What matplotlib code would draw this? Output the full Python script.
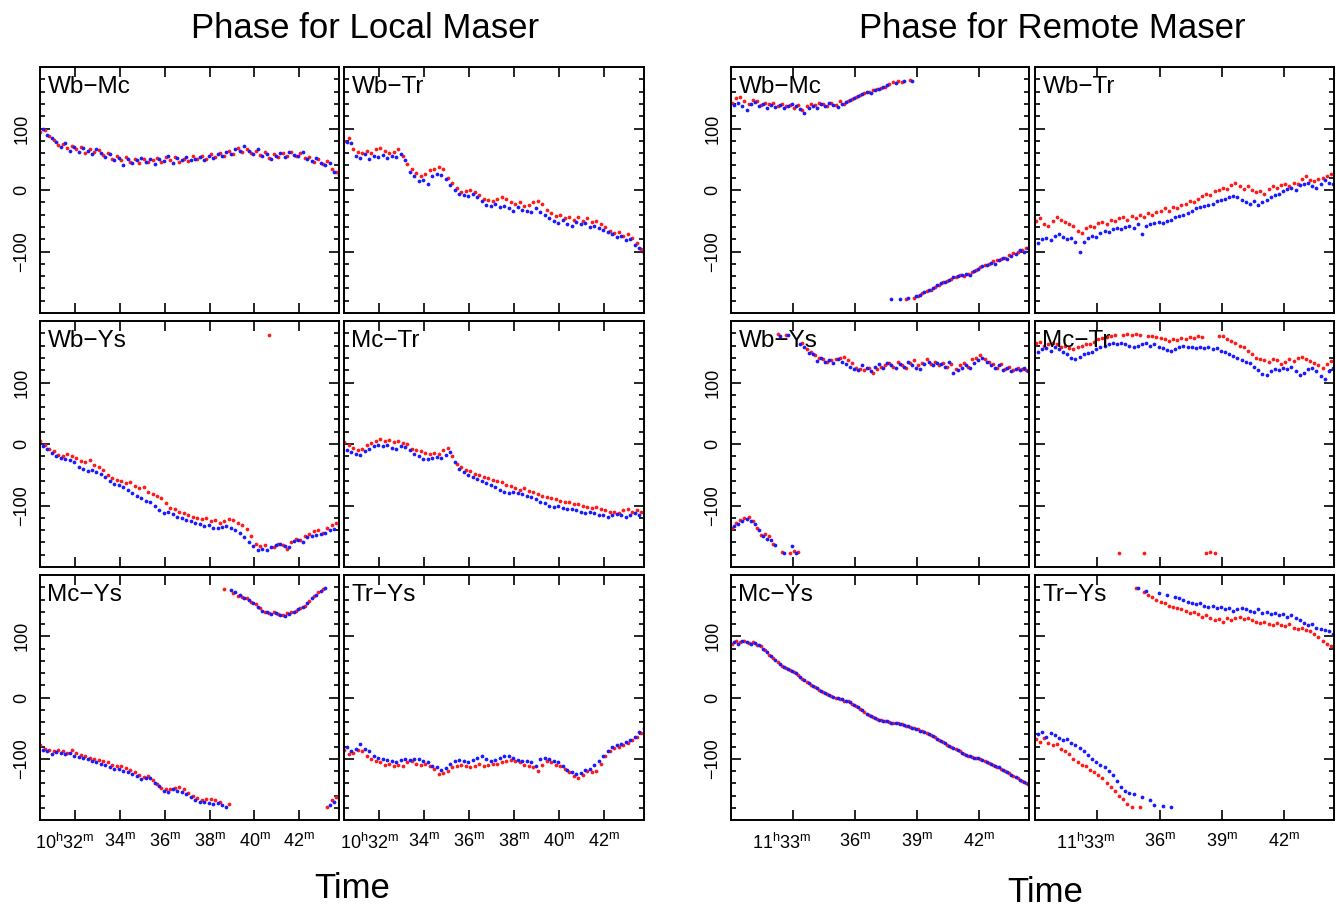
import numpy as np
import matplotlib.pyplot as plt
from matplotlib.transforms import ScaledTranslation

plt.rcParams['font.family'] = ['Liberation Sans', 'DejaVu Sans']
plt.rcParams['mathtext.fontset'] = 'custom'
plt.rcParams['mathtext.rm'] = 'Liberation Sans'

# sample times, minutes past the hour (10h for local, 11h for remote)
t_loc_r = 30.45 + 0.2 * np.arange(67)
t_loc_b = 30.55 + 0.2 * np.arange(67)
t_rem_r = 30.05 + 0.2 * np.arange(72)
t_rem_b = 30.15 + 0.2 * np.arange(72)

# phases in degrees (unwrapped where the track crosses +-180)
loc_wbmc_r = [95, 98, 88, 82, 73, 74, 68, 72, 66, 70,
              60, 66, 62, 65, 57, 60, 50, 55, 48, 53,
              46, 50, 44, 51, 45, 49, 52, 46, 54, 48,
              53, 45, 51, 47, 55, 50, 56, 51, 58, 54,
              60, 55, 64, 58, 68, 62, 67, 60, 64, 57,
              61, 52, 58, 53, 60, 55, 62, 56, 60, 52,
              54, 46, 51, 42, 47, 34, 30]
loc_wbmc_b = [100, 90, 84, 78, 70, 76, 64, 70, 62, 68,
              63, 58, 66, 60, 54, 58, 48, 52, 40, 50,
              44, 48, 52, 45, 50, 43, 50, 47, 55, 44,
              52, 48, 54, 49, 50, 53, 48, 56, 52, 58,
              56, 62, 59, 66, 64, 72, 63, 58, 66, 55,
              58, 50, 56, 60, 53, 62, 57, 55, 61, 50,
              47, 52, 44, 40, 44, 30, 25]

loc_wbtr_r = [80, 84, 66, 62, 60, 64, 60, 66, 68, 64,
              60, 62, 67, 55, 42, 34, 28, 22, 26, 32,
              34, 38, 34, 20, 12, 4, -4, -2, 0, -4,
              -8, -14, -16, -18, -14, -12, -15, -20, -22, -20,
              -26, -24, -20, -18, -22, -32, -38, -42, -40, -46,
              -44, -48, -44, -50, -46, -52, -50, -55, -60, -66,
              -70, -68, -74, -72, -78, -86, -96]
loc_wbtr_b = [78, 76, 56, 52, 58, 50, 56, 54, 57, 52,
              56, 54, 58, 48, 30, 22, 14, 16, 10, 22,
              26, 24, 18, 8, 0, -6, -8, -10, -6, -12,
              -18, -24, -26, -22, -28, -26, -30, -34, -28, -32,
              -34, -36, -30, -35, -40, -45, -50, -53, -48, -55,
              -58, -52, -56, -54, -60, -58, -62, -65, -68, -72,
              -76, -75, -82, -80, -90, -95, -102]

loc_wbys_r = [5, -2, -8, -12, -18, -20, -16, -20, -22, -28,
              -30, -26, -34, -38, -42, -50, -56, -58, -60, -64,
              -62, -68, -72, -70, -78, -82, -84, -88, -96, -104,
              -106, -110, -112, -115, -118, -120, -122, -120, -125, -124,
              -128, -126, -122, -124, -128, -132, -138, -150, -162, -166,
              -164, -183, -168, -162, -165, -170, -160, -154, -156, -150,
              -146, -142, -140, -144, -136, -132, -128]
loc_wbys_b = [-4, -8, -15, -19, -22, -24, -26, -30, -38, -40,
              -44, -43, -46, -48, -54, -60, -65, -67, -70, -74,
              -80, -84, -88, -92, -94, -100, -108, -112, -110, -114,
              -118, -120, -124, -126, -128, -130, -134, -132, -136, -137,
              -135, -134, -136, -140, -145, -152, -160, -166, -172, -170,
              -172, -168, -164, -162, -166, -168, -158, -156, -160, -152,
              -150, -148, -146, -145, -140, -138, -134]

loc_mctr_r = [3, -2, -6, -10, -8, -2, 2, 5, 8, 5,
              7, 3, 5, 2, 0, -8, -10, -12, -14, -16,
              -14, -16, -10, -6, -20, -32, -38, -42, -44, -48,
              -50, -54, -56, -58, -60, -62, -66, -68, -72, -74,
              -72, -76, -78, -82, -84, -86, -88, -90, -92, -94,
              -95, -97, -98, -100, -102, -104, -103, -106, -108, -110,
              -110, -112, -108, -106, -110, -108, -110]
loc_mctr_b = [-10, -13, -16, -18, -12, -8, -4, -2, -3, -1,
              -6, -8, -4, -5, -10, -16, -20, -24, -25, -22,
              -21, -22, -18, -13, -30, -40, -46, -50, -54, -57,
              -60, -64, -66, -70, -74, -78, -80, -78, -80, -82,
              -84, -86, -90, -94, -96, -100, -102, -100, -104, -105,
              -106, -108, -110, -112, -110, -113, -115, -116, -118, -116,
              -114, -116, -118, -115, -113, -116, -112]

loc_mcys_r = [-78, -84, -86, -88, -86, -88, -90, -86, -90, -94,
              -96, -98, -100, -102, -104, -106, -110, -112, -112, -115,
              -118, -122, -126, -130, -128, -134, -142, -148, -150, -150,
              -148, -146, -150, -156, -160, -164, -168, -166, -166, -168,
              -170, -183, -174, -190, -194, -196, -198, -204, -208, -214,
              -220, -222, -220, -224, -226, -222, -220, -218, -214, -210,
              -202, -194, -188, -183, -178, -168, -162]
loc_mcys_b = [-85, -88, -92, -89, -90, -92, -90, -95, -97, -98,
              -101, -103, -106, -109, -110, -114, -116, -117, -120, -122,
              -125, -128, -133, -132, -131, -140, -145, -152, -155, -150,
              -152, -154, -158, -162, -168, -171, -170, -173, -174, -172,
              -175, -179, -185, -188, -193, -197, -200, -206, -212, -218,
              -221, -224, -222, -225, -227, -223, -221, -216, -212, -206,
              -198, -192, -186, -182, -176, -170, -164]

loc_trys_r = [-85, -93, -90, -86, -88, -95, -100, -104, -106, -110,
              -108, -112, -110, -112, -106, -104, -108, -110, -109, -112,
              -116, -125, -124, -120, -114, -112, -110, -112, -114, -112,
              -108, -112, -110, -108, -109, -106, -104, -102, -104, -106,
              -110, -112, -114, -120, -110, -104, -106, -110, -112, -116,
              -122, -128, -131, -126, -120, -122, -120, -108, -96, -88,
              -82, -80, -78, -74, -70, -64, -58]
loc_trys_b = [-80, -88, -84, -76, -84, -88, -96, -98, -100, -102,
              -104, -106, -102, -100, -102, -100, -101, -104, -106, -112,
              -114, -118, -115, -108, -104, -102, -104, -106, -102, -98,
              -96, -100, -104, -102, -98, -96, -95, -98, -102, -104,
              -104, -106, -112, -100, -98, -100, -104, -106, -112, -118,
              -122, -125, -124, -118, -117, -110, -104, -96, -88, -80,
              -77, -76, -72, -70, -64, -56, -50]

rem_wbmc_r = [142, 150, 152, 145, 140, 146, 144, 138, 142, 140,
              141, 137, 140, 136, 138, 134, 138, 130, 136, 140,
              138, 142, 140, 136, 142, 138, 144, 140, 145, 148,
              152, 155, 158, 160, 162, 164, 166, 168, 172, 175,
              178, 176, 182, 179, 185, 188, 192, 196, 198, 202,
              206, 210, 212, 216, 218, 222, 220, 224, 226, 230,
              234, 238, 240, 244, 246, 248, 250, 254, 258, 260,
              262, 266]
rem_wbmc_b = [138, 142, 136, 130, 140, 143, 137, 140, 134, 138,
              135, 138, 133, 137, 140, 136, 132, 126, 134, 136,
              134, 140, 137, 141, 138, 135, 140, 143, 146, 150,
              153, 156, 160, 158, 163, 165, 168, 170, 183, 174,
              182, 177, 184, 178, 187, 190, 194, 198, 200, 205,
              208, 211, 214, 218, 220, 221, 224, 222, 228, 232,
              236, 238, 242, 240, 246, 250, 248, 252, 256, 262,
              260, 265]

rem_wbtr_r = [-50, -46, -56, -58, -50, -44, -48, -52, -56, -58,
              -66, -70, -62, -58, -60, -54, -52, -56, -48, -50,
              -46, -44, -48, -42, -45, -40, -44, -38, -40, -36,
              -34, -30, -34, -28, -30, -25, -22, -18, -20, -14,
              -10, -6, -8, -2, 0, 4, 2, 8, 12, 6,
              2, 6, 0, -4, -2, -6, 2, 6, 4, 8,
              10, 6, 12, 10, 18, 22, 16, 14, 18, 20,
              22, 26]
rem_wbtr_b = [-86, -80, -78, -82, -74, -72, -76, -80, -78, -84,
              -100, -84, -78, -74, -76, -70, -66, -68, -64, -62,
              -64, -60, -58, -62, -56, -72, -58, -56, -54, -52,
              -54, -50, -48, -44, -42, -40, -38, -34, -30, -28,
              -26, -24, -22, -18, -16, -14, -12, -10, -12, -16,
              -20, -22, -18, -24, -20, -16, -12, -8, -6, -2,
              2, 4, 0, 8, 10, 12, 6, 3, 10, 16,
              12, 10]

rem_wbys_r = [-136, -128, -124, -120, -118, -126, -136, -148, -146, -150,
              -162, -181, -176, -182, -178, -174, -175, -196, -205, -210,
              -216, -220, -222, -226, -224, -222, -220, -218, -224, -228,
              -236, -238, -240, -236, -244, -238, -234, -232, -228, -234,
              -226, -232, -236, -228, -224, -232, -228, -222, -230, -226,
              -232, -228, -234, -230, -238, -232, -228, -234, -222, -220,
              -215, -222, -226, -230, -236, -230, -238, -234, -240, -236,
              -238, -240]
rem_wbys_b = [-134, -130, -126, -122, -126, -130, -140, -150, -154, -156,
              -164, -185, -178, -183, -166, -177, -197, -203, -212, -214,
              -225, -220, -226, -224, -228, -222, -226, -230, -234, -238,
              -240, -231, -236, -242, -234, -230, -236, -228, -232, -236,
              -230, -234, -226, -232, -236, -238, -230, -226, -232, -228,
              -230, -234, -226, -244, -240, -236, -232, -236, -228, -224,
              -220, -226, -232, -236, -232, -240, -236, -242, -238, -240,
              -236, -242]

rem_mctr_r = [164, 166, 160, 163, 165, 162, 158, 160, 156, 154,
              158, 160, 163, 162, 166, 170, 172, 174, 176, 177,
              183, 178, 179, 177, 179, 178, 183, 176, 175, 174,
              172, 170, 168, 171, 169, 173, 171, 174, 172, 175,
              174, 183, 184, 182, 176, 175, 170, 168, 165, 160,
              158, 152, 146, 140, 138, 136, 134, 138, 136, 130,
              134, 138, 135, 140, 142, 138, 135, 132, 128, 124,
              130, 135]
rem_mctr_b = [150, 154, 156, 152, 158, 155, 150, 146, 140, 138,
              142, 146, 148, 150, 154, 158, 160, 162, 164, 163,
              165, 162, 160, 158, 160, 162, 164, 160, 162, 158,
              156, 153, 152, 155, 158, 160, 157, 158, 156, 157,
              156, 158, 155, 156, 152, 150, 146, 143, 140, 136,
              134, 132, 126, 120, 114, 112, 118, 122, 120, 124,
              122, 126, 118, 112, 116, 122, 124, 118, 110, 105,
              118, 124]

rem_mcys_r = [88, 92, 90, 93, 89, 90, 86, 84, 78, 70,
              64, 58, 52, 48, 45, 42, 36, 30, 26, 20,
              17, 12, 9, 5, 2, 0, -2, -5, -6, -10,
              -14, -19, -24, -29, -32, -35, -37, -38, -40, -41,
              -42, -44, -46, -48, -50, -52, -55, -58, -61, -65,
              -69, -73, -77, -80, -84, -88, -92, -95, -97, -98,
              -100, -103, -107, -110, -113, -116, -120, -124, -128, -132,
              -136, -140]
rem_mcys_b = [90, 88, 92, 90, 87, 89, 85, 80, 74, 68,
              62, 55, 50, 46, 44, 40, 33, 28, 23, 18,
              15, 11, 7, 4, 1, -1, -3, -6, -8, -12,
              -16, -21, -27, -30, -34, -36, -38, -39, -41, -42,
              -43, -45, -47, -49, -51, -54, -57, -60, -63, -67,
              -71, -75, -79, -82, -86, -90, -94, -96, -98, -99,
              -102, -105, -108, -112, -114, -118, -122, -126, -130, -134,
              -138, -142]

rem_trys_r = [-68, -72, -66, -74, -78, -76, -84, -88, -92, -100,
              -106, -110, -112, -118, -122, -126, -132, -140, -146, -152,
              -160, -166, -174, -178, -182, -178, -188, -192, -196, -200,
              -204, -206, -210, -212, -214, -216, -218, -222, -220, -224,
              -228, -226, -230, -234, -232, -236, -230, -234, -231, -228,
              -232, -230, -234, -236, -238, -236, -240, -242, -238, -242,
              -244, -240, -246, -248, -246, -250, -252, -256, -262, -268,
              -272, -276]
rem_trys_b = [-60, -56, -64, -58, -62, -66, -70, -68, -74, -78,
              -82, -88, -94, -100, -106, -110, -114, -120, -126, -136,
              -146, -152, -156, -158, -182, -162, -186, -168, -176, -190,
              -177, -192, -178, -196, -198, -200, -204, -206, -208, -206,
              -210, -212, -210, -214, -212, -216, -214, -218, -216, -214,
              -216, -218, -220, -216, -222, -220, -224, -222, -226, -224,
              -228, -226, -230, -234, -238, -242, -240, -246, -248, -250,
              -252, -256]

baselines = ['Wb−Mc', 'Wb−Tr', 'Wb−Ys', 'Mc−Tr', 'Mc−Ys', 'Tr−Ys']
local = [(loc_wbmc_r, loc_wbmc_b), (loc_wbtr_r, loc_wbtr_b),
         (loc_wbys_r, loc_wbys_b), (loc_mctr_r, loc_mctr_b),
         (loc_mcys_r, loc_mcys_b), (loc_trys_r, loc_trys_b)]
remote = [(rem_wbmc_r, rem_wbmc_b), (rem_wbtr_r, rem_wbtr_b),
          (rem_wbys_r, rem_wbys_b), (rem_mctr_r, rem_mctr_b),
          (rem_mcys_r, rem_mcys_b), (rem_trys_r, rem_trys_b)]


def wrap(p):
    return (np.asarray(p, dtype=float) + 180) % 360 - 180


W, H = 1336, 908
fig = plt.figure(figsize=(W / 100, H / 100), dpi=100)

rows = [(67, 313), (321, 567), (575, 820)]
groups = [
    dict(cols=[(40, 339), (344, 644)], data=local, tr=t_loc_r, tb=t_loc_b,
         xlim=(30.43, 43.77), xt=[32, 34, 36, 38, 40, 42], hour=10, shift=-10),
    dict(cols=[(731, 1029), (1035, 1334)], data=remote, tr=t_rem_r, tb=t_rem_b,
         xlim=(30.0, 44.4), xt=[33, 36, 39, 42], hour=11, shift=-11),
]

for g in groups:
    xlabels = [r'%d$^{\rm h}$%d$^{\rm m}$' % (g['hour'], g['xt'][0])]
    xlabels += [r'%d$^{\rm m}$' % m for m in g['xt'][1:]]
    for k, (red, blue) in enumerate(g['data']):
        r, c = divmod(k, 2)
        x0, x1 = g['cols'][c]
        y0, y1 = rows[r]
        ax = fig.add_axes([x0 / W, 1 - y1 / H, (x1 - x0) / W, (y1 - y0) / H])
        ax.plot(g['tr'][:len(red)], wrap(red), 'o', ms=2.7, mew=0, color='#ff1a1a')
        ax.plot(g['tb'][:len(blue)], wrap(blue), 'o', ms=2.7, mew=0, color='#1a1aff')
        ax.set_xlim(*g['xlim'])
        ax.set_ylim(-200, 200)
        ax.set_xticks(g['xt'])
        ax.set_yticks([-100, 0, 100])
        ax.set_yticks(np.arange(-180, 181, 20), minor=True)
        ax.tick_params(which='both', direction='in', top=True, right=True,
                       width=1.2, labelsize=13)
        ax.tick_params(axis='x', pad=9)
        ax.tick_params(axis='y', pad=7)
        ax.tick_params(which='major', length=7)
        ax.tick_params(which='minor', length=3.5)
        for s in ax.spines.values():
            s.set_linewidth(1.4)
        if c == 0:
            ax.set_yticklabels(['−100', '0', '100'], rotation=90, va='center')
        else:
            ax.set_yticklabels([])
        if r == 2:
            ax.set_xticklabels(xlabels)
            # the hour label is drawn so that its minutes sit under the tick
            first = ax.get_xticklabels()[0]
            first.set_transform(first.get_transform() +
                                ScaledTranslation(g['shift'] / 100, 0, fig.dpi_scale_trans))
        else:
            ax.set_xticklabels([])
        ax.text(0.025, 0.965, baselines[k], transform=ax.transAxes,
                ha='left', va='top', fontsize=17.5)

fig.text(365 / W, 1 - 28 / H, 'Phase for Local Maser', ha='center', va='center', fontsize=25)
fig.text(1052 / W, 1 - 28 / H, 'Phase for Remote Maser', ha='center', va='center', fontsize=25)
fig.text(352 / W, 1 - 888 / H, 'Time', ha='center', va='center', fontsize=25)
fig.text(1045 / W, 1 - 893 / H, 'Time', ha='center', va='center', fontsize=25)

fig.savefig('out.png', dpi=100)
